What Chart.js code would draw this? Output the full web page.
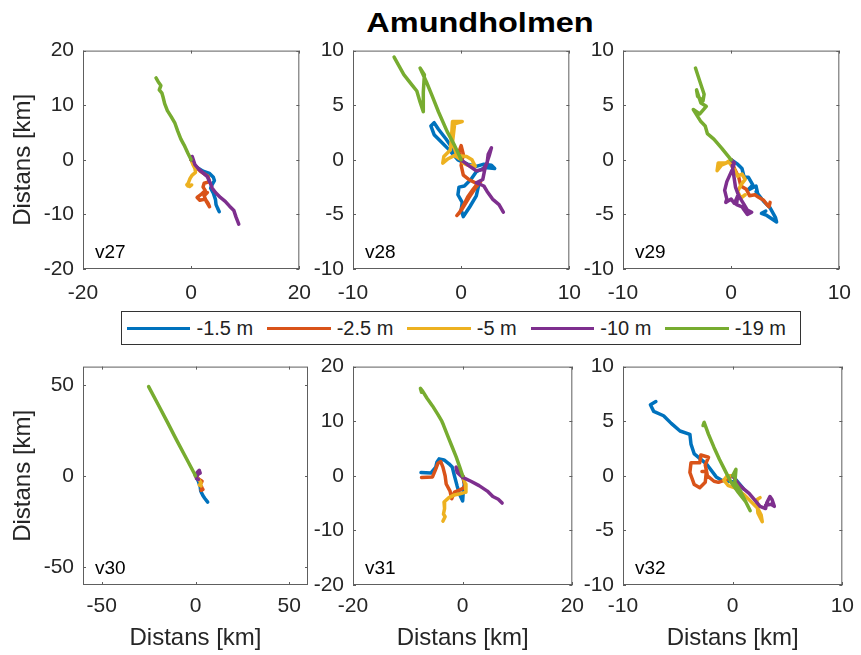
<!DOCTYPE html>
<html>
<head>
<meta charset="utf-8">
<script src="https://cdn.jsdelivr.net/npm/chart.js@4.4.0/dist/chart.umd.min.js"></script>
<style>
body { margin: 0; background: #fff; }
#fig { position: relative; width: 861px; height: 655px; overflow: hidden; background: #fff;
       font-family: "Liberation Sans", Arial, sans-serif; }
#fig canvas { position: absolute; }
#title { position: absolute; left: 480px; top: 9px; font-size: 28px; line-height: 28px; font-weight: bold;
         color: #000; white-space: nowrap; transform: translateX(-50%) scaleX(1.16); }
#legend { position: absolute; left: 121px; top: 311px; width: 680px; height: 34px; border: 1px solid #333;
          display: flex; align-items: center; padding-left: 5px; box-sizing: border-box; background: #fff; }
.lg-line { width: 66px; height: 3px; margin-right: 6px; }
.lg-text { font-size: 20px; color: #222; margin-right: 14px; white-space: nowrap; }
</style>
</head>
<body>
<div id="fig">
  <div id="title">Amundholmen</div>
  <div id="legend"></div>
</div>
<script>
// Serier (djup) och färger
const seriesNames = ['-1.5 m', '-2.5 m', '-5 m', '-10 m', '-19 m'];
const seriesColors = ['#0072BD', '#D95319', '#EDB120', '#7E2F8E', '#77AC30'];

// Paneler
const panelLabels = ['v27', 'v28', 'v29', 'v30', 'v31', 'v32'];
const axisMin = [-20, -10, -10, -60, -20, -10];
const axisMax = [20, 10, 10, 60, 20, 10];
const xTicks = [[-20, 0, 20], [-10, 0, 10], [-10, 0, 10], [-50, 0, 50], [-20, 0, 20], [-10, 0, 10]];
const yTicks = [[-20, -10, 0, 10, 20], [-10, -5, 0, 5, 10], [-10, -5, 0, 5, 10],
                [-50, 0, 50], [-20, -10, 0, 10, 20], [-10, -5, 0, 5, 10]];
const axisTitle = 'Distans [km]';

// v27 – progressiva vektordiagram [x, y] km
const v27_m1_5 = [[0,0],[0.8,-1.2],[2.2,-2.1],[3.4,-2.5],[4.1,-3.2],[4.3,-3.8],[3.9,-4.5],[3.6,-5.2],[4.1,-6.1],[4.5,-7.3],[4.6,-8.2],[4.9,-8.9],[5.2,-9.5]];
const v27_m2_5 = [[0,0],[0.8,-1.2],[1.7,-2.1],[3.1,-3.0],[3.4,-4.0],[2.4,-4.3],[2.2,-5.0],[2.6,-5.6],[1.9,-6.3],[1.1,-6.9],[1.6,-7.4],[2.6,-7.2],[3.1,-7.9],[3.4,-8.6],[2.8,-7.6],[2.4,-6.6],[3.0,-6.0]];
const v27_m5 = [[0,0],[0.3,-0.8],[0.7,-1.6],[0.8,-2.3],[0.2,-2.8],[-0.2,-3.4],[-0.5,-4.2],[-0.8,-4.6],[-0.3,-4.9],[0.1,-4.6],[-0.6,-4.8]];
const v27_m10 = [[0,0],[0.2,0.6],[0.7,-0.9],[1.4,-1.7],[2.1,-2.3],[3.0,-3.1],[3.5,-4.2],[3.9,-5.2],[4.5,-6.0],[5.4,-6.9],[6.3,-7.6],[7.1,-8.5],[7.9,-9.3],[8.3,-10.5],[8.8,-11.8]];
const v27_m19 = [[0,0],[-0.6,1.2],[-1.3,2.7],[-1.9,3.8],[-2.5,5.3],[-3.0,6.7],[-3.7,7.9],[-4.4,9.0],[-4.9,10.3],[-5.2,11.5],[-5.4,12.2],[-5.9,12.8],[-5.6,13.6],[-6.1,14.3],[-6.5,15.0]];

// v28
const v28_m1_5 = [[0,0],[-0.7,0.9],[-1.4,1.9],[-2.1,2.8],[-2.5,3.4],[-2.8,3.1],[-2.5,2.3],[-1.9,1.7],[-1.2,1.0],[-0.3,0.0],[0.6,-0.4],[1.4,-0.6],[2.1,-0.4],[2.8,-0.5],[3.1,-0.8],[2.2,-0.7],[1.4,-1.1],[0.9,-1.8],[0.3,-2.4],[-0.2,-2.5],[-0.3,-3.2],[0.1,-3.9],[0.0,-4.6],[0.2,-5.2],[0.8,-4.3],[1.4,-3.3],[1.6,-2.4]];
const v28_m2_5 = [[0,0],[-0.2,0.7],[0.0,1.3],[0.2,0.5],[0.0,-0.5],[0.2,-1.4],[0.7,-1.8],[1.5,-2.2],[1.1,-2.7],[0.6,-3.4],[0.2,-4.2],[-0.2,-4.9],[-0.4,-5.1],[0.1,-4.5],[0.7,-3.5],[1.3,-2.6],[1.8,-2.0]];
const v28_m5 = [[0,0],[-0.6,0.4],[-1.2,0.1],[-1.7,-0.3],[-1.6,0.3],[-1.0,0.9],[-0.9,2.0],[-0.8,3.5],[0.1,3.5],[-0.6,3.3],[-0.8,1.6],[-0.4,0.4],[0.5,0.3],[1.0,0.0],[1.3,-0.6],[0.6,-0.5],[0.2,-0.3]];
const v28_m10 = [[0,0],[0.8,-0.6],[1.4,-1.0],[2.0,-0.9],[2.4,-0.3],[2.5,0.5],[2.8,1.1],[2.6,0.4],[2.2,-0.8],[2.0,-1.8],[1.4,-2.1],[2.1,-2.4],[2.4,-2.9],[2.9,-3.6],[3.5,-4.1],[3.9,-4.8]];
const v28_m19 = [[0,0],[-0.6,1.3],[-1.3,2.6],[-2.1,4.4],[-2.7,5.9],[-3.2,7.1],[-3.8,8.4],[-3.4,7.8],[-3.5,6.2],[-3.5,4.4],[-3.8,5.3],[-4.1,6.3],[-4.5,6.8],[-5.3,7.8],[-6.2,9.4]];

// v29
const v29_m1_5 = [[0,0],[0.6,-0.4],[1.0,-0.8],[1.2,-1.6],[1.6,-1.6],[2.0,-2.3],[1.5,-2.8],[2.3,-2.4],[2.5,-3.3],[2.3,-2.9],[3.0,-3.8],[3.6,-4.4],[4.1,-5.3],[4.2,-5.7],[3.3,-5.1],[2.8,-4.9],[3.2,-4.7]];
const v29_m2_5 = [[0,0],[0.3,-0.8],[0.7,-1.6],[0.9,-2.4],[1.4,-2.7],[1.7,-3.3],[2.2,-3.2],[2.5,-3.4],[3.0,-3.7],[3.3,-4.1],[3.5,-4.3],[3.6,-3.9]];
const v29_m5 = [[0,0],[-0.5,-0.3],[-1.2,-0.3],[-1.3,-1.0],[-0.9,-0.5],[-0.2,-0.2],[0.3,-0.9],[0.6,-1.5],[1.0,-1.3],[1.3,-1.8],[0.9,-2.3],[0.6,-2.9],[0.9,-3.5],[1.3,-3.2]];
const v29_m10 = [[0,0],[0.3,-0.3],[0.1,-0.9],[-0.4,-2.0],[-0.6,-2.8],[-0.4,-3.6],[-0.5,-3.9],[0.0,-3.6],[0.3,-4.0],[0.6,-3.3],[0.5,-4.1],[1.0,-4.3],[1.2,-4.6],[1.5,-5.0],[1.9,-4.8],[1.5,-4.6],[1.2,-4.1],[0.7,-3.3],[0.4,-2.5],[0.1,-0.5]];
const v29_m19 = [[0,0],[-0.9,1.1],[-1.6,1.9],[-2.2,2.4],[-2.4,3.1],[-2.8,3.5],[-3.5,4.6],[-2.9,4.2],[-2.3,4.9],[-2.8,5.2],[-3.2,6.4],[-3.1,5.8],[-2.6,5.4],[-2.5,6.0],[-2.9,7.2],[-3.3,8.4]];

// v30
const v30_m1_5 = [[0,0],[1.5,-3],[2.5,-6],[2.8,-8.5],[4,-11],[5,-12.5],[6.5,-14.5]];
const v30_m2_5 = [[0,0],[2,-2],[3.5,-3],[2.5,-5],[3.5,-6.5],[3,-8],[4,-7.5]];
const v30_m5 = [[0,0],[2,-2.5],[3,-4],[2,-5],[3,-5.5]];
const v30_m10 = [[0,0],[1,2],[2,3],[2.5,1.5],[1,0.5],[0.5,-1.5],[1.5,-2]];
const v30_m19 = [[0,0],[-5,9.8],[-10,19.5],[-15,29.5],[-20,39.3],[-25,49]];

// v31
const v31_m1_5 = [[0,0],[0.3,-1.5],[0.1,-3.0],[0,-4.6],[-0.5,-3.5],[-1.0,-1.9],[-1.5,0],[-1.9,1.6],[-2.5,2.2],[-3.4,2.9],[-4.3,3.1],[-4.7,2.5],[-4.9,1.6],[-5.8,0.5],[-7.6,0.6]];
const v31_m2_5 = [[0,0],[0.5,-2],[-0.5,-2.6],[-1.5,-3.0],[-2.0,-4.2],[-2.3,-2.8],[-3.0,-1.5],[-3.2,0],[-3.6,1.6],[-4.0,2.6],[-4.5,2.3],[-5.0,1.0],[-5.5,-0.2],[-7.5,-0.3]];
const v31_m5 = [[0,0],[0.5,-1.5],[0.6,-3.0],[-0.5,-3.3],[-1.5,-3.5],[-2.5,-4.0],[-3.4,-4.8],[-3.3,-6.0],[-3.5,-7.0],[-3.2,-7.5],[-3.6,-8.3]];
const v31_m10 = [[0,0],[-1.2,1.6],[-1.0,0.6],[0,-0.3],[1.5,-1.0],[3,-1.8],[4.5,-2.8],[5.5,-3.8],[6.5,-4.3],[7.2,-5.0]];
const v31_m19 = [[0,0],[-0.5,1.5],[-1.2,3.5],[-2.0,5.5],[-2.8,7.5],[-3.5,9.3],[-3.8,10],[-4.5,11.2],[-5.5,12.8],[-6.5,14.2],[-7.3,15.5],[-7.7,16],[-7.5,15.3]];

// v32
const v32_m1_5 = [[0,0],[1.0,-1.2],[0.3,-0.6],[-1.0,-0.4],[-1.5,-0.1],[-2.4,1.1],[-3.5,2.0],[-3.8,2.9],[-3.9,3.8],[-4.8,4.1],[-5.6,4.8],[-6.3,5.5],[-7.2,5.9],[-7.5,6.5],[-7.0,6.8]];
const v32_m2_5 = [[0,0],[-0.5,-0.3],[-1.3,-0.6],[-1.7,-0.5],[-2.3,0],[-2.5,1.0],[-2.2,1.7],[-2.9,1.9],[-3.0,1.2],[-3.8,1.2],[-3.9,0.3],[-3.5,-0.8],[-3.0,-1.1],[-2.5,-0.6],[-2.4,0.4],[-2.8,0.4]];
const v32_m5 = [[0,0],[-0.5,0],[-0.8,-0.4],[-0.4,-0.9],[0.2,-1.1],[1.0,-1.7],[1.8,-2.5],[2.3,-3.0],[2.6,-3.6],[2.7,-4.2],[2.3,-3.4],[2.2,-2.2],[2.5,-2.0]];
const v32_m10 = [[0,0],[0.5,-0.7],[1.0,-1.2],[1.5,-1.6],[2.0,-2.2],[2.5,-2.8],[3.0,-3.0],[3.1,-2.5],[3.4,-1.9],[3.6,-2.2],[3.8,-2.8],[3.5,-2.6],[3.0,-2.7]];
const v32_m19 = [[0,0],[0.3,0.6],[0.2,-0.6],[0.6,-1.2],[1.0,-2.0],[1.6,-3.2],[1.2,-2.4],[0.5,-1.5],[-0.2,-0.5],[-0.7,0.5],[-1.2,1.5],[-1.7,2.6],[-2.2,3.8],[-2.6,4.9],[-2.7,4.6]];

const panelData = [
    [v27_m1_5, v27_m2_5, v27_m5, v27_m10, v27_m19],
    [v28_m1_5, v28_m2_5, v28_m5, v28_m10, v28_m19],
    [v29_m1_5, v29_m2_5, v29_m5, v29_m10, v29_m19],
    [v30_m1_5, v30_m2_5, v30_m5, v30_m10, v30_m19],
    [v31_m1_5, v31_m2_5, v31_m5, v31_m10, v31_m19],
    [v32_m1_5, v32_m2_5, v32_m5, v32_m10, v32_m19]
];

// Placering av axelrutorna
const boxLeft = [83, 353, 623];
const boxTop = [44, 360];
const padL = 85, padT = 15, padR = 15, padB = 75;
const boxSize = 225;

// Ram, inåtvända tickmarkeringar och panelnamn (som i MATLAB)
const boxPlugin = {
    id: 'boxTicks',
    afterDatasetsDraw(chart, args, opts) {
        const { ctx, chartArea: a, scales } = chart;
        const tl = 3;
        ctx.save();
        ctx.strokeStyle = '#5e5e5e';
        ctx.lineWidth = 1;
        ctx.strokeRect(a.left + 0.5, a.top + 0.5, a.width - 1, a.height - 1);
        ctx.beginPath();
        scales.x.ticks.forEach(t => {
            const px = Math.round(scales.x.getPixelForValue(t.value)) + 0.5;
            ctx.moveTo(px, a.bottom); ctx.lineTo(px, a.bottom - tl);
            ctx.moveTo(px, a.top); ctx.lineTo(px, a.top + tl);
        });
        scales.y.ticks.forEach(t => {
            const py = Math.round(scales.y.getPixelForValue(t.value)) + 0.5;
            ctx.moveTo(a.left, py); ctx.lineTo(a.left + tl, py);
            ctx.moveTo(a.right, py); ctx.lineTo(a.right - tl, py);
        });
        ctx.stroke();
        ctx.fillStyle = '#000';
        ctx.font = '19px "Liberation Sans", Arial, sans-serif';
        ctx.textBaseline = 'alphabetic';
        ctx.fillText(opts.label, a.left + 12, a.bottom - 11);
        ctx.restore();
    }
};

function makePanel(i) {
    const col = i % 3;
    const row = Math.floor(i / 3);
    const canvas = document.createElement('canvas');
    canvas.width = padL + boxSize + padR;
    canvas.height = padT + boxSize + padB;
    canvas.style.left = (boxLeft[col] - padL) + 'px';
    canvas.style.top = (boxTop[row] - padT) + 'px';
    document.getElementById('fig').appendChild(canvas);

    const datasets = panelData[i].map((pts, s) => ({
        label: seriesNames[s],
        data: pts.map(p => ({ x: p[0], y: p[1] })),
        showLine: true,
        borderColor: seriesColors[s],
        backgroundColor: seriesColors[s],
        borderWidth: 3.5,
        pointRadius: 0,
        tension: 0,
        borderJoinStyle: 'round',
        borderCapStyle: 'round',
        order: 4 - s  // -19 m överst
    }));

    const tickFont = { family: '"Liberation Sans", Arial, sans-serif', size: 21 };
    const titleFont = { family: '"Liberation Sans", Arial, sans-serif', size: 24 };

    new Chart(canvas.getContext('2d'), {
        type: 'scatter',
        data: { datasets },
        options: {
            responsive: false,
            animation: false,
            devicePixelRatio: 1,
            layout: { padding: { top: padT, right: padR, left: 0, bottom: 0 } },
            plugins: {
                legend: { display: false },
                tooltip: { enabled: false },
                boxTicks: { label: panelLabels[i] }
            },
            scales: {
                x: {
                    type: 'linear',
                    min: axisMin[i],
                    max: axisMax[i],
                    afterBuildTicks: sc => { sc.ticks = xTicks[i].map(v => ({ value: v })); },
                    afterFit: sc => { sc.height = padB; },
                    grid: { display: false, drawTicks: false },
                    border: { display: false },
                    ticks: { color: '#262626', font: tickFont, padding: row === 0 ? 12 : 9, maxRotation: 0 },
                    title: { display: row === 1, text: axisTitle, color: '#262626', font: titleFont,
                             padding: { top: 0, bottom: 7 } }
                },
                y: {
                    type: 'linear',
                    min: axisMin[i],
                    max: axisMax[i],
                    afterBuildTicks: sc => { sc.ticks = yTicks[i].map(v => ({ value: v })); },
                    afterFit: sc => { sc.width = padL; },
                    grid: { display: false, drawTicks: false },
                    border: { display: false },
                    ticks: { color: '#262626', font: tickFont, padding: 9 },
                    title: { display: col === 0, text: axisTitle, color: '#262626', font: titleFont,
                             padding: { top: 11, bottom: 0 } }
                }
            }
        },
        plugins: [boxPlugin]
    });
}

// Legend (HTML)
function buildLegend() {
    const legend = document.getElementById('legend');
    seriesNames.forEach((name, s) => {
        const line = document.createElement('span');
        line.className = 'lg-line';
        line.style.background = seriesColors[s];
        const txt = document.createElement('span');
        txt.className = 'lg-text';
        txt.textContent = name;
        legend.appendChild(line);
        legend.appendChild(txt);
    });
}

document.addEventListener('DOMContentLoaded', () => {
    buildLegend();
    panelLabels.forEach((_, i) => makePanel(i));
});
</script>
</body>
</html>
